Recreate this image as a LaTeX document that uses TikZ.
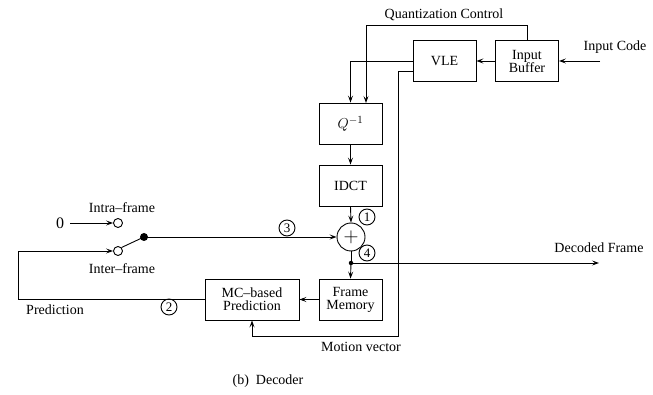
\documentclass[tikz,border=0pt]{standalone}
\usepackage{fontspec}
\setmainfont{Liberation Serif}
\usetikzlibrary{arrows.meta}
\begin{document}
\begin{tikzpicture}[x=1pt,y=-1pt,
  every node/.style={font=\fontsize{14}{16}\selectfont},
  line width=0.9pt,
  arr/.style={-{Stealth[length=7pt,width=5pt,inset=3pt]}},
  box/.style={draw, minimum width=63pt, minimum height=41pt, inner sep=0pt, align=center},
  pin/.style={draw, circle, minimum size=16pt, inner sep=0pt, font=\fontsize{13}{14}\selectfont},
  term/.style={draw, circle, minimum size=9pt, inner sep=0pt, fill=white},
  lbl/.style={inner sep=0pt}]
\useasboundingbox (0,0) rectangle (653,395);
% boxes
\node[box] (VLE) at (444.5,61) {VLE};
\node[box] (IB) at (527,61) {Input\\[-3pt]Buffer};
\node[box, font=\fontsize{15}{17}\selectfont] (Q) at (350.5,123.5) {$Q^{-1}$};
\node[box] (IDCT) at (350.5,185.5) {IDCT};
\node[box] (FM) at (350.5,299.5) {Frame\\[-3pt]Memory};
\node[box, minimum width=94pt] (MC) at (252,299.5) {MC--based\\[-3pt]Prediction};
\node[draw, circle, minimum size=28pt, inner sep=0pt, font=\fontsize{22}{22}\selectfont] (sum) at (351,237) {$+$};
% switch terminals
\node[term] (intra) at (118,223) {};
\node[term] (inter) at (118,251) {};
\node[circle, fill=black, minimum size=8pt, inner sep=0pt] (sw) at (144,237) {};
\node[circle, fill=black, minimum size=4.5pt, inner sep=0pt] (jn) at (351,263) {};
% texts
\node[lbl] (qc) at (444,15) {Quantization Control};
\node[lbl] (ic) at (615,47) {Input Code};
\node[lbl] (df) at (599,248) {Decoded Frame};
\node[lbl] (mv) at (361,347) {Motion vector};
\node[lbl] (pred) at (55,310) {Prediction};
\node[lbl] (intratxt) at (122,208) {Intra--frame};
\node[lbl] (intertxt) at (122,269) {Inter--frame};
\node[lbl, font=\fontsize{16}{16}\selectfont] (zero) at (60,223) {0};
\node[lbl] (cap) at (268,381) {(b)\ \ Decoder};
\node[pin] (p1) at (367,217) {1};
\node[pin] (p4) at (367,253) {4};
\node[pin] (p3) at (287,228) {3};
\node[pin] (p2) at (169,307) {2};
% coordinates
\coordinate (incode) at (600,61);
\coordinate (qctop) at (366,25);
\coordinate (qcin) at (366,103);
\coordinate (mvs) at (413,71);
\coordinate (mvc) at (398,336);
\coordinate (out) at (599,263);
\coordinate (fbl) at (18,299.5);
% connectors
\draw[arr] (incode) -- (IB.east);
\draw[arr] (IB.west) -- (VLE.east);
\draw[arr] (IB.north) |- (qctop) -- (qcin);
\draw[arr] (VLE.west) -| (Q.north);
\draw[arr] (mvs) -| (mvc) -| (MC.south);
\draw[arr] (Q.south) -- (IDCT.north);
\draw[arr] (IDCT.south) -- (sum.north);
\draw (sum.south) -- (jn.center);
\draw[arr] (jn.center) -- (FM.north);
\draw[arr] (jn.center) -- (out);
\draw[arr] (FM.west) -- (MC.east);
\draw[arr] (MC.west) -- (fbl) |- (inter.west);
\draw[arr] (zero.east) ++(6,0) -- (intra.west);
\draw (inter.north east) -- (sw.center);
\draw[arr] (sw.center) -- (sum.west);
\end{tikzpicture}
\end{document}
